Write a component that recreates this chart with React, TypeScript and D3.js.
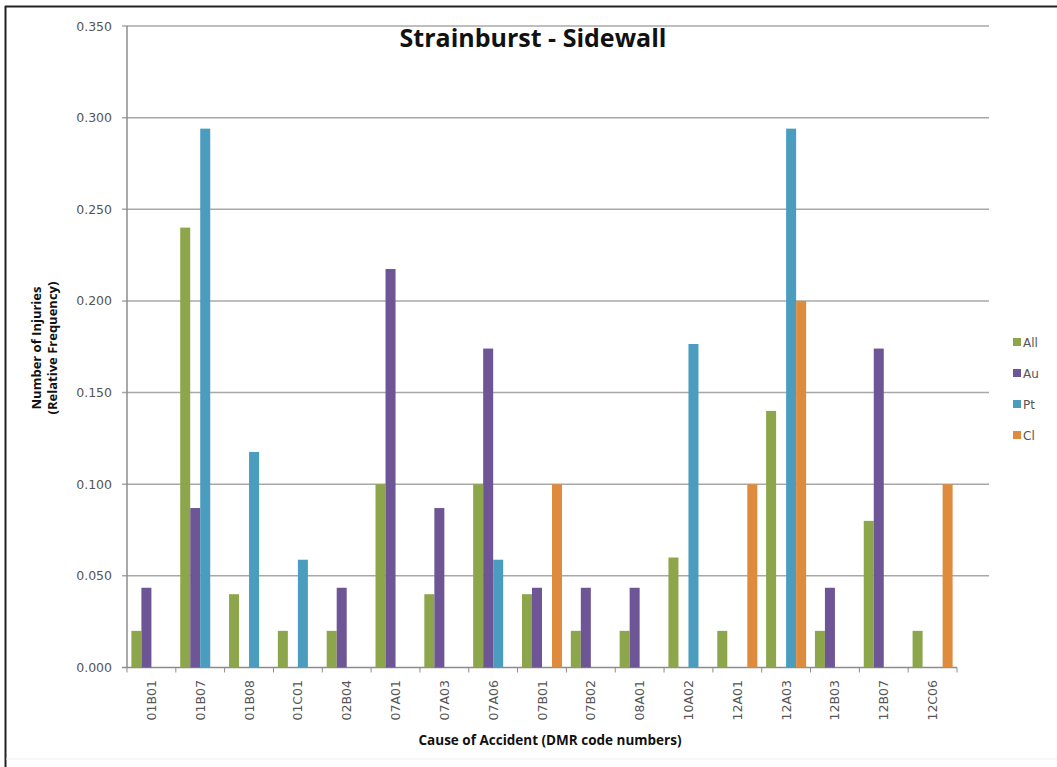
import React from "react";
import * as d3 from "d3";

const categories = ["01B01","01B07","01B08","01C01","02B04","07A01","07A03","07A06","07B01","07B02","08A01","10A02","12A01","12A03","12B03","12B07","12C06"];
const seriesNames = ["All","Au","Pt","Cl"];
const allValues = [0.020,0.240,0.040,0.020,0.020,0.100,0.040,0.100,0.040,0.020,0.020,0.060,0.020,0.140,0.020,0.080,0.020];
const auValues = [0.0435,0.087,0,0,0.0435,0.2174,0.087,0.174,0.0435,0.0435,0.0435,0,0,0,0.0435,0.174,0];
const ptValues = [0,0.294,0.1176,0.0588,0,0,0,0.0588,0,0,0,0.1765,0,0.294,0,0,0];
const clValues = [0,0,0,0,0,0,0,0,0.100,0,0,0,0.100,0.200,0,0,0.100];
const yTicks = [0,0.05,0.1,0.15,0.2,0.25,0.3,0.35];
const colors = ["#8EA64B","#6E5595","#4A9DBF","#DF8B3D"];

export default function App() {
  const W = 1057, H = 767;
  const left = 127, right = 957, top = 26, bottom = 667.5;
  const values = [allValues, auValues, ptValues, clValues];
  const x = d3.scaleBand().domain(categories).range([left, right]).paddingInner(0.18).paddingOuter(0.09);
  const xs = d3.scaleBand().domain(seriesNames).range([0, x.bandwidth()]);
  const y = d3.scaleLinear().domain([0, 0.35]).range([bottom, top]);
  const step = x.step();
  const font = "'DejaVu Sans', sans-serif";
  const bold = "'Open Sans', sans-serif";
  return (
    <svg width={W} height={H} style={{ position: "absolute", left: 0, top: 0, background: "#fff" }}>
      <rect x={0} y={0} width={W} height={H} fill="#fff" />
      <line x1={5.5} x2={5.5} y1={6} y2={H} stroke="#222" strokeWidth={2} />
      <line x1={5} x2={W} y1={6.5} y2={6.5} stroke="#222" strokeWidth={2} />
      <line x1={6} x2={W} y1={759} y2={759} stroke="#eee" strokeWidth={1} />
      {yTicks.map((t) => (
        <g key={t}>
          <line x1={left - 5} x2={t === 0 ? right : right + 32} y1={y(t)} y2={y(t)} stroke={t === 0 ? "#8c8c8c" : "#a8a8a8"} strokeWidth={1.5} />
          <text x={112} y={y(t) + 4.5} textAnchor="end" fontFamily={font} fontSize={12.5} fill="#555">{t.toFixed(3)}</text>
        </g>
      ))}
      <line x1={left} x2={left} y1={top} y2={bottom} stroke="#8c8c8c" strokeWidth={1.5} />
      {d3.range(categories.length + 1).map((i) => (
        <line key={i} x1={left + i * step} x2={left + i * step} y1={bottom} y2={bottom + 5} stroke="#8c8c8c" strokeWidth={1} />
      ))}
      {categories.map((c, i) => (
        <g key={c}>
          {values.map((vals, s) => vals[i] > 0 ? (
            <rect key={s} x={(x(c) as number) + (xs(seriesNames[s]) as number)} y={y(vals[i])} width={xs.bandwidth()} height={bottom - y(vals[i])} fill={colors[s]} />
          ) : null)}
          <text transform={`translate(${(x(c) as number) + x.bandwidth() / 2 + 4.5},${680}) rotate(-90)`} textAnchor="end" fontFamily={font} fontSize={12.5} fill="#555">{c}</text>
        </g>
      ))}
      <text x={533} y={47} textAnchor="middle" fontFamily={bold} fontWeight="bold" fontSize={25} fill="#111">Strainburst - Sidewall</text>
      <text transform={`translate(41,348) rotate(-90)`} textAnchor="middle" fontFamily={bold} fontWeight="bold" fontSize={13} fill="#111">Number of Injuries</text>
      <text transform={`translate(57,348) rotate(-90)`} textAnchor="middle" fontFamily={bold} fontWeight="bold" fontSize={13} fill="#111">(Relative Frequency)</text>
      <text x={550} y={745} textAnchor="middle" fontFamily={bold} fontWeight="bold" fontSize={13.5} fill="#111">Cause of Accident (DMR code numbers)</text>
      {seriesNames.map((s, i) => (
        <g key={s}>
          <rect x={1013} y={338 + i * 31} width={8} height={8} fill={colors[i]} />
          <text x={1023} y={346.5 + i * 31} fontFamily={font} fontSize={12} fill="#555">{s}</text>
        </g>
      ))}
    </svg>
  );
}
